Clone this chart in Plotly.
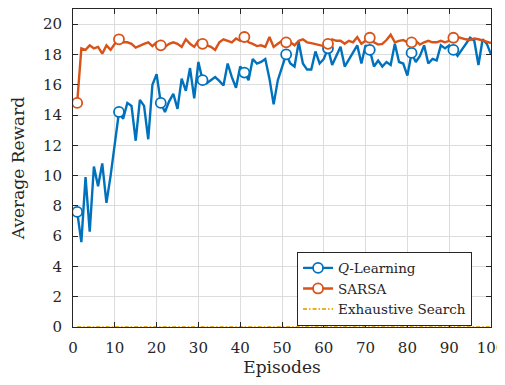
import plotly.graph_objects as go

episodes = list(range(1, 101))

q_learning = [
    7.6, 5.6, 9.9, 6.3, 10.6, 9.3, 10.8, 8.2, 10.0, 12.0,
    14.2, 13.75, 14.8, 14.6, 12.3, 15.0, 14.6, 12.4, 16.0, 16.7,
    14.8, 14.2, 14.9, 15.4, 14.4, 16.4, 15.6, 17.1, 15.1, 17.5,
    16.3, 16.1, 16.3, 16.5, 16.25, 15.95, 17.4, 16.5, 15.8, 17.2,
    16.8, 16.3, 17.7, 17.4, 17.5, 17.7, 16.4, 14.7, 16.3, 17.2,
    18.0, 17.4, 17.2, 18.8, 17.4, 17.0, 17.0, 18.2, 17.4, 17.7,
    18.4, 17.3, 17.9, 18.5, 17.2, 17.7, 18.1, 18.6, 17.4, 18.6,
    18.3, 17.2, 17.6, 17.2, 17.5, 17.3, 18.7, 17.5, 17.4, 16.6,
    18.1, 17.5, 17.9, 18.6, 17.4, 17.7, 17.6, 18.6, 18.4, 18.6,
    18.3, 17.9, 18.3, 18.7, 19.1, 18.9, 17.3, 19.0, 18.7, 18.0,
]

sarsa = [
    14.8, 18.4, 18.3, 18.6, 18.4, 18.5, 18.05, 18.6, 18.3, 18.7,
    19.0, 18.8, 18.8, 18.7, 18.45, 18.6, 18.7, 18.8, 18.55, 18.8,
    18.6, 18.5, 18.7, 18.8, 18.7, 18.5, 19.0, 18.7, 18.5, 18.9,
    18.7, 18.6, 18.5, 18.3, 18.8, 19.0, 18.9, 18.8, 19.05, 18.9,
    19.15, 18.8, 18.7, 18.55, 18.6, 18.5, 19.15, 18.5, 18.7, 18.9,
    18.8, 18.8, 18.6, 18.9, 19.0, 18.8, 18.75, 18.7, 18.6, 18.55,
    18.7, 19.0, 18.9, 18.9, 18.7, 18.9, 18.8, 19.15, 18.7, 18.9,
    19.1, 18.8, 18.65, 18.7, 18.95, 19.3, 18.8, 18.9, 18.95, 18.8,
    18.8, 18.9, 18.65, 18.8, 18.9, 18.8, 18.8, 18.9, 18.8, 18.9,
    19.1, 19.15, 19.05, 19.0, 18.95, 19.05, 19.0, 18.9, 18.8, 18.75,
]

exhaustive = [0.0] * 100

x_ticks = list(range(0, 101, 10))
y_ticks = list(range(0, 21, 2))

BLUE = "#0072BD"
ORANGE = "#D95319"
YELLOW = "#EDB120"
FONT = "DejaVu Serif"
TXT = "#262626"

mark_idx = list(range(0, 100, 10))

fig = go.Figure()

def add_series(name, ys, color):
    fig.add_trace(go.Scatter(x=episodes, y=ys, mode="lines",
                             line=dict(color=color, width=2.4),
                             showlegend=False, hoverinfo="skip"))
    fig.add_trace(go.Scatter(x=[episodes[i] for i in mark_idx],
                             y=[ys[i] for i in mark_idx], mode="markers",
                             marker=dict(symbol="circle", size=10, color="white",
                                         line=dict(color=color, width=1.8)),
                             showlegend=False))
    fig.add_trace(go.Scatter(x=[None], y=[None], mode="lines+markers", name=name,
                             line=dict(color=color, width=2.4),
                             marker=dict(symbol="circle", size=10, color="white",
                                         line=dict(color=color, width=1.8))))

add_series("<i>Q</i>-Learning", q_learning, BLUE)
add_series("SARSA", sarsa, ORANGE)

fig.add_trace(go.Scatter(x=episodes, y=exhaustive, mode="lines", name="Exhaustive Search",
                         line=dict(color=YELLOW, width=2, dash="4px,2px,1.5px,2px")))

axis_common = dict(showgrid=True, gridcolor="#DCDCDC", gridwidth=1,
                   showline=True, linecolor=TXT, linewidth=1, mirror="ticks",
                   ticks="inside", ticklen=5, tickcolor=TXT, zeroline=False,
                   ticklabeloverflow="allow",
                   tickfont=dict(family=FONT, size=15, color=TXT))

fig.update_xaxes(range=[0, 100], tickvals=x_ticks, ticklabelstandoff=7,
                 title=dict(text="Episodes", font=dict(family=FONT, size=17, color=TXT),
                            standoff=4),
                 **axis_common)
fig.update_yaxes(range=[0, 21], tickvals=y_ticks, ticklabelstandoff=7,
                 title=dict(text="Average Reward", font=dict(family=FONT, size=17, color=TXT),
                            standoff=15),
                 **axis_common)

# page body adds an 8px offset; compensate so plot area lands at x 73..491, y 9..327
fig.update_layout(
    width=497, height=377,
    margin=dict(l=65, r=14, t=1, b=58),
    paper_bgcolor="white", plot_bgcolor="white",
    font=dict(family=FONT, size=15, color=TXT),
    legend=dict(x=0.536, y=0.237, xanchor="left", yanchor="top",
                bgcolor="white", bordercolor=TXT, borderwidth=1,
                font=dict(family=FONT, size=13.5, color=TXT),
                tracegroupgap=0, itemwidth=30),
    showlegend=True,
)

fig.write_html("out.html", config={"displayModeBar": False})
